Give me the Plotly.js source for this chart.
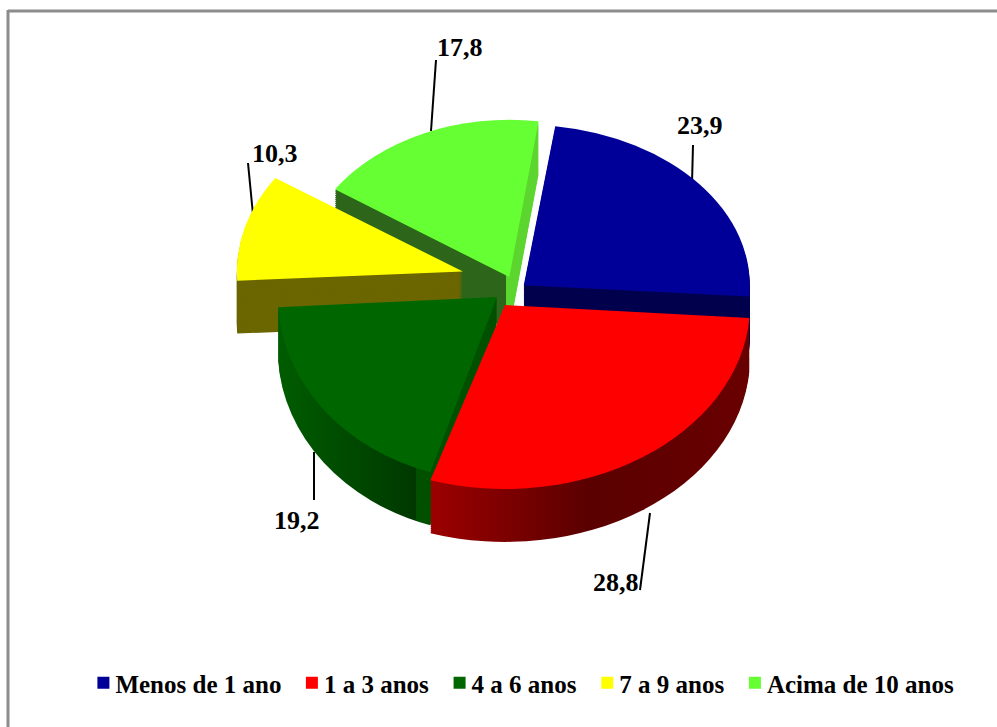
<!DOCTYPE html>
<html><head><meta charset="utf-8">
<script src="https://cdn.plot.ly/plotly-3.0.1.min.js"></script>
<style>html,body{margin:0;padding:0;background:#fff}#c{width:997px;height:727px}</style>
</head><body><div id="c"></div>
<script>
const labels = ['Menos de 1 ano','1 a 3 anos','4 a 6 anos','7 a 9 anos','Acima de 10 anos'];
const values = [23.9,28.8,19.2,10.3,17.8];
const pulls = [0.05,0,0.05,0.23,0.04];
const topColors = ['#000099','#ff0000','#006600','#ffff00','#66ff33'];
const wallColors = ['#00004d','url(#redWall)','url(#greenWall)','#6b6600','url(#limeWall)'];
// perspective correction per slice (the reference is a tilted 3D pie)
const sliceScaleX = [1,1.084,0.97,1,0.93];
const sliceScaleY = [0.96,1.1,1.1,1,0.94];
const sliceShiftX = [2,-8,-7,0,0];
const sliceShiftY = [-2,17.6,0,-14,-12];

const W=997,H=727,cx=513,cy=292,diam=556,squash=0.74,layers=26,step=2.75;
const font='"Liberation Serif","Times New Roman",serif';
function pieTrace(colors,offset,show){
  return {type:'pie',labels:labels,values:values,sort:false,direction:'clockwise',rotation:8,
    pull:pulls,textinfo:'none',hoverinfo:'skip',showlegend:show,
    marker:{colors:colors.map(c=>c.startsWith('url')?'#444':c),line:{width:0}},
    domain:{x:[(cx-diam/2)/W,(cx+diam/2)/W],y:[1-(cy+offset+diam/2)/H,1-(cy+offset-diam/2)/H]}};
}
const data=[];
for(let i=layers;i>=1;i--) data.push(pieTrace(wallColors,i*step,false));
data.push(pieTrace(topColors,0,true));

const txt=values.map(v=>v.toFixed(1).replace('.',','));
const labelPos=[[700,125],[616,582],[297,520],[275,153],[460,48]];
const leaders=[[693,145,692,183],[650,513,640,590],[314,452,314,500],[248,163,254,225],[436,60,431,131]];
const px=x=>x/W, py=y=>1-y/H;
const annotations=txt.map((t,i)=>({text:t,showarrow:false,xref:'paper',yref:'paper',
  x:px(labelPos[i][0]),y:py(labelPos[i][1]),xanchor:'center',yanchor:'middle',
  font:{family:font,size:26,color:'#000',weight:700}}));
const shapes=leaders.map(l=>({type:'line',xref:'paper',yref:'paper',layer:'below',
  x0:px(l[0]),y0:py(l[1]),x1:px(l[2]),y1:py(l[3]),line:{color:'#000',width:2}}));
shapes.push({type:'line',xref:'paper',yref:'paper',x0:px(8),y0:py(11),x1:1,y1:py(11),line:{color:'#8c8c8c',width:3}});
shapes.push({type:'line',xref:'paper',yref:'paper',x0:px(8),y0:py(10),x1:px(8),y1:py(727),line:{color:'#8c8c8c',width:3}});

const layout={width:W,height:H,margin:{l:0,r:0,t:0,b:0},paper_bgcolor:'#fff',showlegend:true,
  legend:{orientation:'h',x:0.532,xanchor:'center',y:py(683),yanchor:'middle',itemwidth:30,itemclick:false,
    traceorder:'normal',font:{family:font,size:25,color:'#000',weight:700},bgcolor:'rgba(0,0,0,0)'},
  annotations:annotations,shapes:shapes};

Plotly.newPlot('c',data,layout,{displayModeBar:false,staticPlot:true}).then(gd=>{
  const layer=gd.querySelector('.pielayer');
  layer.setAttribute('transform',`translate(0,${cy}) scale(1,${squash}) translate(0,${-cy})`);
  const svg=gd.querySelector('svg.main-svg');
  const NS='http://www.w3.org/2000/svg';
  const defs=document.createElementNS(NS,'defs');
  defs.innerHTML=
   '<linearGradient id="redWall" gradientUnits="userSpaceOnUse" x1="436" y1="0" x2="745" y2="0">'+
    '<stop offset="0" stop-color="#a00000"/><stop offset="0.5" stop-color="#5a0000"/><stop offset="1" stop-color="#6a0000"/></linearGradient>'+
   '<linearGradient id="greenWall" gradientUnits="userSpaceOnUse" x1="280" y1="0" x2="440" y2="0">'+
    '<stop offset="0" stop-color="#005c00"/><stop offset="0.88" stop-color="#003800"/><stop offset="0.88" stop-color="#005000"/><stop offset="1" stop-color="#005000"/></linearGradient>'+
   '<linearGradient id="limeWall" gradientUnits="userSpaceOnUse" x1="330" y1="0" x2="550" y2="0">'+
    '<stop offset="0" stop-color="#2d661b"/><stop offset="0.8" stop-color="#2d661b"/><stop offset="0.8" stop-color="#5cd62e"/><stop offset="1" stop-color="#5cd62e"/></linearGradient>';
  svg.insertBefore(defs,svg.firstChild);
  const traces=layer.querySelectorAll('.trace');
  traces.forEach((t,ti)=>{
    const isTop=ti===traces.length-1;
    t.querySelectorAll('.slice path.surface').forEach((p,i)=>{
      if(!isTop && wallColors[i].startsWith('url')) p.style.fill=wallColors[i];
      const m=/^M([-\d.]+),([-\d.]+)/.exec(p.getAttribute('d'));
      if(!m) return;
      const x=+m[1],y=+m[2];
      p.setAttribute('transform',`translate(${x+sliceShiftX[i]},${y+sliceShiftY[i]}) scale(${sliceScaleX[i]},${sliceScaleY[i]}) translate(${-x},${-y})`);
    });
  });
  // tighten the gap between legend swatch and its text
  const gap=8;
  gd.querySelectorAll('.legend .traces').forEach((g,i)=>{
    const t=g.querySelector('.legendtext');
    t.setAttribute('x',(+t.getAttribute('x'))-gap);
    const m=/translate\(([-\d.]+),\s*([-\d.]+)\)/.exec(g.getAttribute('transform'));
    if(m) g.setAttribute('transform',`translate(${+m[1]-i*gap*0.31},${m[2]})`);
  });
});
</script></body></html>
